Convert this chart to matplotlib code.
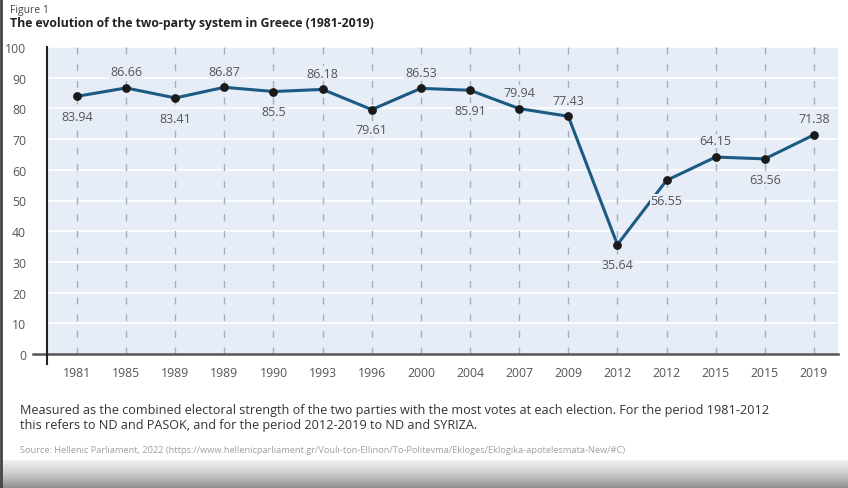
import matplotlib.pyplot as plt
import numpy as np

plt.rcParams['font.family'] = ['Open Sans', 'DejaVu Sans']

# dados do gráfico
anos = ['1981', '1985', '1989', '1989', '1990', '1993', '1996', '2000',
        '2004', '2007', '2009', '2012', '2012', '2015', '2015', '2019']
valores = [83.94, 86.66, 83.41, 86.87, 85.5, 86.18, 79.61, 86.53,
           85.91, 79.94, 77.43, 35.64, 56.55, 64.15, 63.56, 71.38]
acima = [False, True, False, True, False, True, False, True,
         False, True, True, False, False, True, False, True]

fig = plt.figure(figsize=(8.48, 4.89), dpi=100)
ax = fig.add_axes([47/848, 1 - 355/489, (838 - 47)/848, (355 - 48)/489])

x = np.arange(len(anos))
fundo = '#e7edf6'

# fundo e grade
ax.set_facecolor(fundo)
for v in range(10, 101, 10):
    ax.axhline(v, color='white', lw=1.2, zorder=1)
for xi in x:
    ax.axvline(xi, color='#a3aec0', lw=1, linestyle=(0, (5, 7)), zorder=2)

ax.plot(x, valores, color='#1d5a83', lw=2.2, zorder=3)
ax.scatter(x, valores, color='#1a1a1a', s=28, zorder=4)

for xi, v, a in zip(x, valores, acima):
    txt = f'{v:g}'
    caixa = dict(facecolor=fundo, edgecolor='none', pad=0.5)
    if a:
        ax.annotate(txt, (xi, v), xytext=(0, 7), textcoords='offset points',
                    ha='center', va='bottom', fontsize=9, color='#555555',
                    bbox=caixa, zorder=3)
    else:
        ax.annotate(txt, (xi, v), xytext=(0, -10), textcoords='offset points',
                    ha='center', va='top', fontsize=9, color='#555555',
                    bbox=caixa, zorder=3)

ax.set_xlim(-0.61, 15.49)
ax.set_ylim(0, 100)
ax.set_yticks(range(0, 101, 10))
ax.set_xticks(x)
ax.set_xticklabels(anos)
ax.tick_params(axis='both', length=0, labelsize=8.8, colors='#555555')
ax.tick_params(axis='x', pad=9)
ax.tick_params(axis='y', pad=15)
for s in ax.spines.values():
    s.set_visible(False)

# eixos desenhados à mão
ax.plot([-0.9, 15.49], [0, 0], color='#555555', lw=1.8, clip_on=False, zorder=5)
ax.plot([-0.61, -0.61], [-3.3, 100], color='#222222', lw=1.5, clip_on=False, zorder=5)

# textos
fig.text(10/848, 1 - 11/489, 'Figure 1', fontsize=7.5, color='#444444', va='center')
fig.text(10/848, 1 - 23/489, 'The evolution of the two-party system in Greece (1981-2019)',
         fontsize=8.8, fontweight='bold', color='#222222', va='center')
fig.text(20/848, 1 - 418/489,
         'Measured as the combined electoral strength of the two parties with the most votes at each election. '
         'For the period 1981-2012\nthis refers to ND and PASOK, and for the period 2012-2019 to ND and SYRIZA.',
         fontsize=9.1, color='#333333', va='center', linespacing=1.15)
fig.text(20/848, 1 - 451/489,
         'Source: Hellenic Parliament, 2022 (https://www.hellenicparliament.gr/Vouli-ton-Ellinon/To-Politevma/Ekloges/Eklogika-apotelesmata-New/#C)',
         fontsize=6.7, color='#a0a0a0', va='center')

# faixa cinza embaixo e borda
bg = fig.add_axes([0, 0, 1, 28/489], zorder=-1)
grad = np.linspace(0, 1, 50).reshape(-1, 1)
bg.imshow(grad, aspect='auto', cmap='Greys', vmin=-0.3, vmax=2.2, extent=[0, 1, 0, 1])
bg.axis('off')
fig.add_artist(plt.Line2D([1/848, 1/848], [0, 1], color='#444444', lw=2))

fig.savefig('out.png', dpi=100)
